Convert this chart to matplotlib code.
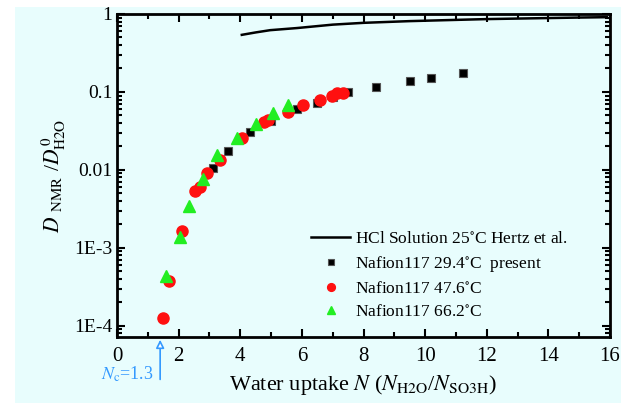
import matplotlib
matplotlib.use("Agg")
import matplotlib.pyplot as plt
from matplotlib.patches import Rectangle
from matplotlib.ticker import FixedLocator, LogLocator, MultipleLocator, FixedFormatter
import numpy as np

plt.rcParams['font.family'] = ['Liberation Serif', 'DejaVu Serif']
plt.rcParams['mathtext.fontset'] = 'stix'

# HCl solution (Hertz et al.)
hcl_n = [4.05, 4.5, 4.97, 5.84, 7.0, 8.0, 9.5, 11.0, 12.0, 13.5, 15.0, 15.9]
hcl_d = [0.54, 0.58, 0.62, 0.66, 0.73, 0.77, 0.81, 0.84, 0.86, 0.88, 0.90, 0.91]

# Nafion117 29.4C present
n_294 = [3.12, 3.6, 4.32, 5.0, 5.84, 6.49, 7.0, 7.5, 8.4, 9.5, 10.2, 11.23]
d_294 = [0.0107, 0.0175, 0.031, 0.042, 0.060, 0.072, 0.087, 0.100, 0.116, 0.138, 0.150, 0.175]

# Nafion117 47.6C
n_476 = [1.5, 1.69, 2.1, 2.53, 2.69, 2.92, 3.34, 4.06, 4.77, 4.9, 5.55, 6.04, 6.59, 6.98, 7.14, 7.34]
d_476 = [1.26e-4, 3.8e-4, 1.65e-3, 0.0054, 0.006, 0.0091, 0.0135, 0.026, 0.041, 0.044, 0.055, 0.068, 0.079, 0.089, 0.097, 0.098]

# Nafion117 66.2C
n_662 = [1.58, 2.04, 2.34, 2.79, 3.25, 3.9, 4.51, 5.06, 5.55]
d_662 = [4.3e-4, 1.4e-3, 3.4e-3, 0.0076, 0.0155, 0.026, 0.039, 0.054, 0.068]

y_ticks = [1e-4, 1e-3, 1e-2, 1e-1, 1]
y_labels = ['1E-4', '1E-3', '0.01', '0.1', '1']
n_c = 1.4

bg = '#E8FDFD'
blue = '#3399FF'

fig = plt.figure(figsize=(6.37, 4.03), dpi=100, facecolor='white')
fig.patches.append(Rectangle((0.0235, 0.0), 0.9515, 0.9826, transform=fig.transFigure,
                             facecolor=bg, edgecolor='none', zorder=-10))
ax = fig.add_axes([0.1837, 0.1638, 0.7739, 0.8015])
ax.set_facecolor(bg)

ax.plot(hcl_n, hcl_d, '-', color='black', lw=1.8, label='HCl Solution 25$^{\\circ}$C Hertz et al.')
ax.plot(n_294, d_294, 's', color='black', mec='#555555', mew=0.8, ms=5.5,
        label='Nafion117 29.4$^{\\circ}$C  present')
ax.plot(n_476, d_476, 'o', color='#FF1010', mec='#FF1010', ms=8,
        label='Nafion117 47.6$^{\\circ}$C')
ax.plot(n_662, d_662, '^', color='#22EE22', mec='#22EE22', ms=8.5,
        label='Nafion117 66.2$^{\\circ}$C')

ax.set_yscale('log')
ax.set_xlim(0, 16)
ax.set_ylim(7.2e-5, 1)

ax.xaxis.set_major_locator(MultipleLocator(2))
ax.xaxis.set_minor_locator(MultipleLocator(1))
ax.yaxis.set_major_locator(FixedLocator(y_ticks))
ax.yaxis.set_major_formatter(FixedFormatter(y_labels))
ax.yaxis.set_minor_locator(LogLocator(base=10, subs=np.arange(2, 10)))
ax.yaxis.set_minor_formatter(FixedFormatter([]))

ax.tick_params(which='both', direction='in', top=True, right=True, width=1.5, labelsize=14)
ax.tick_params(axis='x', labelsize=15)
ax.tick_params(which='major', length=6)
ax.tick_params(which='minor', length=3.5)
ax.tick_params(axis='x', pad=7)
for s in ax.spines.values():
    s.set_linewidth(2)

ax.set_xlabel('Water uptake $N$ ($N_{\\mathrm{H2O}}$/$N_{\\mathrm{SO3H}}$)', fontsize=16, labelpad=5)
ax.set_ylabel('$D$ $_{\\mathrm{NMR}}$ /$D^{\\,0}_{\\mathrm{H2O}}$', fontsize=15.5, labelpad=4)

ax.annotate('', xy=(n_c, 7.2e-5), xycoords='data',
            xytext=(n_c, -0.14), textcoords=('data', 'axes fraction'),
            arrowprops=dict(arrowstyle='-|>', color=blue, fc='white', lw=1.2, mutation_scale=12),
            annotation_clip=False)
ax.text(n_c - 0.2, -0.115, '$N_{\\mathrm{c}}$=1.3', color=blue, fontsize=13,
        ha='right', va='center', transform=ax.get_xaxis_transform())

ax.legend(loc='lower left', bbox_to_anchor=(0.375, 0.025), frameon=False, fontsize=12.5,
          handlelength=2.3, handletextpad=0.25, labelspacing=0.4, borderpad=0,
          markerscale=0.7)

fig.savefig('out.png', dpi=100, facecolor='white')
